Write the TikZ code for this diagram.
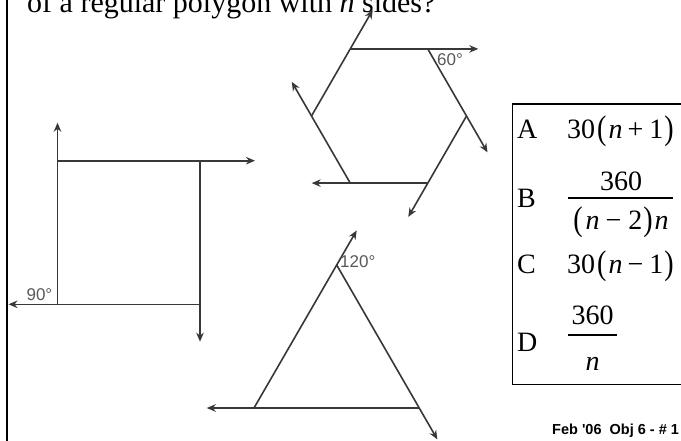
\documentclass[tikz,border=0pt]{standalone}
\usepackage{fontspec}
\setmainfont{Liberation Serif}
\newfontfamily\lsans{Liberation Sans}
\usepackage{graphicx}
\usetikzlibrary{arrows.meta}
\newcommand\lpar{\raisebox{-0.06em}{\scalebox{1}[1.22]{(}}}
\newcommand\rpar{\raisebox{-0.06em}{\scalebox{1}[1.22]{)}}}
\begin{document}
\begin{tikzpicture}[x=1pt,y=-1pt,
  edge/.style={draw=black!78, line width=1.6pt},
  arr/.style={edge, -{Stealth[length=9pt,width=7.5pt]}},
  deg/.style={font=\lsans\fontsize{17}{17}\selectfont, text=black!65, inner sep=0pt},
  ans/.style={font=\fontsize{28}{30}\selectfont, inner sep=0pt, anchor=base west},
  num/.style={font=\fontsize{28}{30}\selectfont, inner sep=0pt, anchor=base},
  fbar/.style={draw=black, line width=1.4pt},
]
\useasboundingbox (0,0) rectangle (681,440);
\clip (0,0) rectangle (681,440);
\fill[white] (0,0) rectangle (681,440);

% question text (cut at top)
\node[anchor=base west, inner sep=0pt, font=\fontsize{30}{31}\selectfont] (q) at (27,12) {of a regular polygon with \textit{n} sides?};

% left border
\coordinate (bt) at (7,-5);
\coordinate (bb) at (7,445);
\draw[line width=2.5pt] (bt) -- (bb);

% square
\coordinate (s1) at (57.5,160.7);
\coordinate (s2) at (200,160.7);
\coordinate (s3) at (200,304.3);
\coordinate (s4) at (57.5,304.3);
\coordinate (s2e) at (255,160.7);
\coordinate (s3e) at (200,341.7);
\coordinate (s4e) at (8.5,304.3);
\coordinate (s1e) at (57.5,122.7);
\draw[arr] (s1) -- (s2e);
\draw[arr] (s2) -- (s3e);
\draw[arr] (s3) -- (s4e);
\draw[arr] (s4) -- (s1e);
\node[deg, anchor=south east] (l90) at (52.5,301) {90°};

% hexagon
\coordinate (h1) at (350.25,48.9);
\coordinate (h2) at (427.75,48.9);
\coordinate (h3) at (466.5,116);
\coordinate (h4) at (427.75,183.1);
\coordinate (h5) at (350.25,183.1);
\coordinate (h6) at (311.5,116);
\coordinate (h2e) at (478.3,48.9);
\coordinate (h3e) at (487.5,152.4);
\coordinate (h4e) at (408.3,216.9);
\coordinate (h5e) at (311.7,183.1);
\coordinate (h6e) at (291.75,81.8);
\coordinate (h1e) at (372.75,9.9);
\draw[arr] (h1) -- (h2e);
\draw[arr] (h2) -- (h3e);
\draw[arr] (h3) -- (h4e);
\draw[arr] (h4) -- (h5e);
\draw[arr] (h5) -- (h6e);
\draw[arr] (h6) -- (h1e);
\node[deg, anchor=north west] (l60) at (437,53) {60°};

% triangle
\coordinate (t1) at (336.7,265);
\coordinate (t2) at (419.35,408);
\coordinate (t3) at (254,408);
\coordinate (t1e) at (356.7,230.4);
\coordinate (t2e) at (437.35,439.4);
\coordinate (t3e) at (206.7,408);
\draw[arr] (t3) -- (t1e);
\draw[arr] (t1) -- (t2e);
\draw[arr] (t2) -- (t3e);
\node[deg, anchor=west] (l120) at (340,262) {120°};

% answer box
\coordinate (bx1) at (690,104);
\coordinate (bx2) at (512.5,104);
\coordinate (bx3) at (512.5,384.5);
\coordinate (bx4) at (690,384.5);
\draw[line width=1.5pt] (bx1) -- (bx2) -- (bx3) -- (bx4);

% A
\node[ans] (la) at (517,138) {A};
\node[ans] (ea) at (567,138) {30\hspace{2pt}\lpar\hspace{2pt}\textit{n}\hspace{5pt}+\hspace{6pt}1\hspace{1pt}\rpar};
% B
\node[ans] (lb) at (517,207) {B};
\node[num] (bn) at (621,190) {360};
\coordinate (bb1) at (568,198);
\coordinate (bb2) at (673,198);
\draw[fbar] (bb1) -- (bb2);
\node[num] (bd) at (621,229) {\lpar\hspace{3pt}\textit{n}\hspace{6pt}−\hspace{7pt}2\hspace{1pt}\rpar\hspace{2pt}\textit{n}};
% C
\node[ans] (lc) at (517,273) {C};
\node[ans] (ec) at (567,273) {30\hspace{2pt}\lpar\hspace{2pt}\textit{n}\hspace{5pt}−\hspace{6pt}1\hspace{1pt}\rpar};
% D
\node[ans] (ld) at (517,351) {D};
\node[num] (dn) at (592.5,324) {360};
\coordinate (db1) at (568,335);
\coordinate (db2) at (617,335);
\draw[fbar] (db1) -- (db2);
\node[num] (dd) at (592.5,370) {\textit{n}};

% footer
\node[anchor=west, inner sep=0pt, font=\lsans\bfseries\fontsize{14.5}{15}\selectfont] (ft) at (552,431) {Feb '06~~Obj 6 - \# 1};
\end{tikzpicture}
\end{document}
